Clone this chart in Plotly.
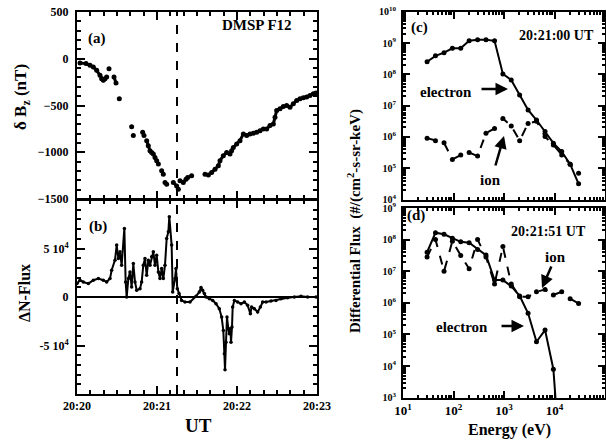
import plotly.graph_objects as go

# ---------------- data ----------------
# panel (a): delta Bz (nT) vs time (minutes after 20:20 UT); None = gap
bz_time = [0.0375, 0.1125, 0.1625, 0.204, 0.246, 0.2875, 0.308, 0.329, 0.35, 0.371, None,
           0.4, None, 0.4625, 0.4875, None, 0.529, None, 0.683, None, 0.704, None,
           0.821, 0.8375, None, 0.871, 0.891, 0.9125, 0.933, 0.954, 0.975, 0.996, 1.017, None,
           1.058, 1.079, None, 1.1, 1.121, None, 1.204, 1.246, 1.267, None,
           1.2875, 1.329, 1.3625, 1.383, 1.433, None,
           1.6, 1.642, 1.683, 1.725, 1.767, 1.7875, 1.829, 1.871, 1.9125, 1.933, 1.954, 1.996,
           2.0375, 2.079, 2.121, 2.1625, 2.204, 2.246, 2.2875, 2.329, 2.371, 2.4125, 2.454,
           2.475, 2.496, 2.5375, 2.579, 2.621, 2.6625, 2.704, 2.746, 2.7875, 2.829, 2.871,
           2.9125, 2.954, 2.9875]
bz_val = [-45, -52, -70, -88, -124, -177, -213, -231, -213, -195, None,
          -106, None, -195, -260, None, -428, None, -726, None, -822, None,
          -787, -822, None, -876, -930, -984, -1002, -1019, -1055, -1091, -1127, None,
          -1199, -1234, None, -1324, -1342, None, -1324, -1360, -1395, None,
          -1306, -1324, -1288, -1270, -1252, None,
          -1234, -1242, -1217, -1181, -1145, -1091, -1037, -1002, -1019, -984, -948, -912,
          -876, -804, -822, -804, -797, -786, -769, -751, -751, -715, -697,
          -625, -554, -536, -511, -500, -518, -482, -446, -428, -418, -410,
          -392, -375, -367]

# panel (b): delta N-flux vs time (minutes after 20:20 UT)
nf_time = [0.0, 0.0375, 0.079, 0.142, 0.204, 0.267, 0.329, 0.371, 0.4125, 0.433, 0.475,
           0.496, 0.517, 0.5375, 0.558, 0.592, 0.608, 0.621, 0.642, 0.6625, 0.683, 0.704,
           0.725, 0.746, 0.7875, 0.808, 0.829, 0.85, 0.871, 0.892, 0.9125, 0.933, 0.954,
           0.975, 0.996, 1.017, 1.0375, 1.058, 1.079, 1.1, 1.121, 1.142, 1.154, 1.183,
           1.196, 1.225, 1.2375, 1.254, 1.275, 1.308, 1.35, 1.4125, 1.4875, 1.529, 1.55,
           1.571, 1.592, 1.6125, 1.654, 1.696, 1.7375, 1.779, 1.808, 1.829, 1.842, 1.85,
           1.8625, 1.875, 1.892, 1.904, 1.917, 1.925, 1.9375, 1.946, 1.967, 2.008, 2.05,
           2.092, 2.133, 2.167, 2.183, 2.217, 2.258, 2.292, 2.321, 2.3625, 2.425, 2.4875,
           2.55, 2.633, 2.717, 2.8, 2.883, 2.9875]
nf_val = [13800, 17300, 15500, 13800, 17300, 19000, 17300, 15500, 19000, 27600, 38000,
          53500, 39700, 46600, 32800, 70700, 15500, 0, 19000, 25900, 10400, 34500,
          15500, 6900, 8600, 15500, 32800, 39700, 22400, 38000, 32800, 41400, 46600,
          32800, 43100, 25900, 19000, 29300, 19000, 32800, 60400, 67300, 82800, 53500,
          5200, 19000, 29300, 8600, 3500, -3500, -5200, -5200, 700, 5200, 9700,
          6900, 3500, 0, -1700, -3500, -6900, -12000, -20700, -34500, -58600, -75000,
          -46600, -20700, -32800, -38000, -32800, -46600, -31000, -10400, -3500, -5200, -6900,
          -5200, -8600, -17300, -10400, -12000, -15500, -10400, -5200, -5200, -4100, -3500,
          -1700, -700, 0, 700, 0, 0]

# energy channels (eV)
energy = [30, 44, 65, 95, 139, 204, 300, 440, 650, 950, 1390, 2040, 3000, 4400,
          6500, 9500, 13900, 20400, 30000]

# panel (c) 20:21:00 UT, log10 differential flux
c_electron_log = [8.40, 8.59, 8.69, 8.83, 8.83, 9.07, 9.10, 9.10, 9.07, 8.01, 7.82,
                  7.34, 6.86, 6.54, 6.17, 5.80, 5.53, 5.13, 4.50]
c_ion_log = [5.96, 5.88, 5.81, 5.28, 5.42, 5.50, 5.39, 6.12, 6.27, 6.59, 6.35,
             5.88, 6.43, 6.50, 6.01, 5.74, 5.42, 5.13, 4.84]

# panel (d) 20:21:51 UT, log10 differential flux
d_electron_log = [7.60, 8.22, 8.17, 8.04, 7.93, 7.90, 7.69, 7.51, 6.72, 6.72, 6.53,
                  6.22, 5.67, 4.77, 5.14, 3.90, 0.3]
d_ion_log = [7.45, 8.00, 7.00, 7.95, 7.50, 7.08, 8.00, 7.45, 6.60, 7.78, 6.60,
             6.19, 6.19, 6.35, 6.42, 6.25, 6.35, 6.13, 5.98]

time_ticks = [0, 1, 2, 3]
time_labels = ["20:20", "20:21", "20:22", "20:23"]
event_time = 1.25

# ---------------- figure ----------------
FONT = "Liberation Serif, Times New Roman, serif"
W, H = 606, 440
fig = go.Figure()

fig.add_trace(go.Scatter(x=bz_time, y=bz_val, mode="lines+markers", xaxis="x", yaxis="y",
                         line=dict(color="black", width=3), marker=dict(color="black", size=5),
                         connectgaps=False, showlegend=False))
fig.add_trace(go.Scatter(x=nf_time, y=nf_val, mode="lines+markers", xaxis="x2", yaxis="y2",
                         line=dict(color="black", width=2), marker=dict(color="black", size=3.5),
                         showlegend=False))

c_el = [10 ** v for v in c_electron_log]
c_io = [10 ** v for v in c_ion_log]
d_el = [10 ** v for v in d_electron_log]
d_io = [10 ** v for v in d_ion_log]

fig.add_trace(go.Scatter(x=energy, y=c_el, mode="lines+markers", xaxis="x3", yaxis="y3",
                         line=dict(color="black", width=2), marker=dict(color="black", size=5),
                         showlegend=False))
fig.add_trace(go.Scatter(x=energy, y=c_io, mode="lines+markers", xaxis="x3", yaxis="y3",
                         line=dict(color="black", width=2, dash="dash"),
                         marker=dict(color="black", size=5), showlegend=False))
fig.add_trace(go.Scatter(x=energy[:len(d_el)], y=d_el, mode="lines+markers", xaxis="x4", yaxis="y4",
                         line=dict(color="black", width=2), marker=dict(color="black", size=5),
                         showlegend=False))
fig.add_trace(go.Scatter(x=energy, y=d_io, mode="lines+markers", xaxis="x4", yaxis="y4",
                         line=dict(color="black", width=2, dash="dash"),
                         marker=dict(color="black", size=5), showlegend=False))

def px_x(p):
    return p / W

def px_y(p):
    return 1 - p / H

tickfont = dict(family=FONT, size=12, color="black", weight="bold")
common = dict(showline=True, linecolor="black", linewidth=2, mirror="allticks",
              ticks="inside", tickcolor="black", tickwidth=1.5, showgrid=False,
              zeroline=False, tickfont=tickfont, automargin=False)

left_dom = [px_x(77), px_x(317)]
right_dom = [px_x(403), px_x(605)]
dom_a = [px_y(199), px_y(12)]
dom_b = [px_y(394), px_y(200)]
dom_c = [px_y(199.5), px_y(11.7)]
dom_d = [px_y(397.7), px_y(208)]

minor_t = dict(ticks="inside", ticklen=4, tickcolor="black", dtick=1 / 6, tick0=0, showgrid=False)

fig.update_layout(
    xaxis=dict(common, domain=left_dom, range=[0, 3], anchor="y", tickmode="array",
               tickvals=time_ticks, showticklabels=False, ticklen=8, minor=minor_t),
    yaxis=dict(common, domain=dom_a, range=[-1500, 500], anchor="x", tickmode="array",
               tickvals=[-1500, -1000, -500, 0, 500], ticklen=8, ticklabelstandoff=4,
               minor=dict(ticks="inside", ticklen=4, tickcolor="black", dtick=100, tick0=0)),
    xaxis2=dict(common, domain=left_dom, range=[0, 3], anchor="y2", tickmode="array",
                tickvals=time_ticks, ticktext=time_labels, ticklen=8, minor=minor_t),
    yaxis2=dict(common, domain=dom_b, range=[-100000, 100000], anchor="x2", tickmode="array",
                tickvals=[-50000, 0, 50000],
                ticktext=["-5 10<sup>4</sup>", "0", "5 10<sup>4</sup>"], ticklen=8,
                ticklabelstandoff=4,
                minor=dict(ticks="inside", ticklen=4, tickcolor="black", dtick=10000, tick0=0)),
)

dec_x = [10 ** k for k in range(1, 6)]
minor_x = [m * 10 ** k for k in range(1, 5) for m in range(2, 10)]
minor_y_c = [m * 10 ** k for k in range(4, 10) for m in range(2, 10)]
minor_y_d = [m * 10 ** k for k in range(3, 9) for m in range(2, 10)]
small_tickfont = dict(family=FONT, size=10, color="black", weight="bold")

fig.update_layout(
    xaxis3=dict(common, type="log", domain=right_dom, range=[1, 5], anchor="y3",
                tickmode="array", tickvals=dec_x, showticklabels=False, ticklen=7,
                minor=dict(ticks="inside", ticklen=3, tickcolor="black", tickmode="array",
                           tickvals=minor_x)),
    yaxis3=dict(common, type="log", domain=dom_c, range=[4, 10], anchor="x3",
                tickmode="array", tickvals=[10 ** k for k in range(4, 11)],
                ticktext=["10<sup>%d</sup>" % k for k in range(4, 11)], ticklen=7,
                tickfont=small_tickfont, ticklabelstandoff=3,
                minor=dict(ticks="inside", ticklen=3, tickcolor="black", tickmode="array",
                           tickvals=minor_y_c)),
    xaxis4=dict(common, type="log", domain=right_dom, range=[1, 5], anchor="y4",
                tickmode="array", tickvals=dec_x,
                ticktext=["10<sup>%d</sup>" % k for k in range(1, 6)], ticklen=7,
                tickfont=dict(family=FONT, size=13, color="black", weight="bold"),
                minor=dict(ticks="inside", ticklen=3, tickcolor="black", tickmode="array",
                           tickvals=minor_x)),
    yaxis4=dict(common, type="log", domain=dom_d, range=[3, 9], anchor="x4",
                tickmode="array", tickvals=[10 ** k for k in range(3, 10)],
                ticktext=["10<sup>%d</sup>" % k for k in range(3, 10)], ticklen=7,
                tickfont=small_tickfont, ticklabelstandoff=3,
                minor=dict(ticks="inside", ticklen=3, tickcolor="black", tickmode="array",
                           tickvals=minor_y_d)),
)

# zero line in (b) and event line across (a)-(b)
fig.add_shape(type="line", xref="x2", yref="y2", x0=0, x1=3, y0=0, y1=0,
              line=dict(color="black", width=2))
fig.add_shape(type="line", xref="x", yref="paper", x0=event_time, x1=event_time,
              y0=dom_b[0], y1=dom_a[1], line=dict(color="black", width=2, dash="dash"))

def text(x, y, s, size=14, angle=0):
    fig.add_annotation(x=px_x(x), y=px_y(y), xref="paper", yref="paper", text=s,
                       showarrow=False, textangle=angle, xanchor="center", yanchor="middle",
                       font=dict(family=FONT, size=size, color="black"))

def arrow(x_head, y_head, x_tail, y_tail):
    fig.add_annotation(x=px_x(x_head), y=px_y(y_head), xref="paper", yref="paper", text="",
                       showarrow=True, ax=x_tail - x_head, ay=y_tail - y_head,
                       arrowhead=2, arrowsize=1, arrowwidth=2.5, arrowcolor="black")

text(97, 38, "<b>(a)</b>", 15)
text(257, 25, "<b>DMSP F12</b>", 15)
text(98, 227, "<b>(b)</b>", 15)
text(419, 27, "<b>(c)</b>", 15)
text(416, 215, "<b>(d)</b>", 15)
text(556, 36, "<b>20:21:00 UT</b>", 14)
text(548, 231, "<b>20:21:51 UT</b>", 14)
text(446, 92, "<b>electron</b>", 15)
arrow(508, 89, 480, 89)
text(490, 180, "<b>ion</b>", 15)
arrow(504, 136, 495, 167)
text(555, 257, "<b>ion</b>", 15)
arrow(542, 288, 552, 265)
text(462, 327, "<b>electron</b>", 15)
arrow(524, 326, 500, 326)

text(22, 97, "<b>δ B<sub>z</sub> (nT)</b>", 17, angle=-90)
text(24, 293, "<b>ΔN-Flux</b>", 16, angle=-90)
text(354, 221, "<b>Differential Flux  (#/(cm<sup>2</sup>-s-sr-keV)</b>", 15, angle=-90)
text(198, 425, "<b>UT</b>", 19)
text(509, 430, "<b>Energy (eV)</b>", 16)

fig.update_layout(width=W, height=H, margin=dict(l=0, r=0, t=0, b=0),
                  paper_bgcolor="white", plot_bgcolor="white",
                  font=dict(family=FONT, color="black"))

fig.write_html("out.html")
